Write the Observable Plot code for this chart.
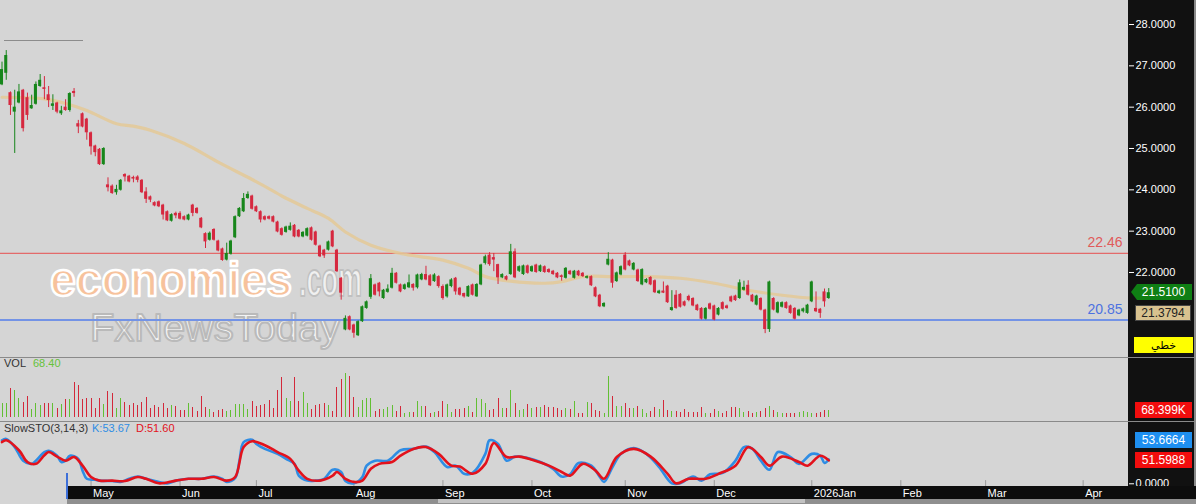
<!DOCTYPE html>
<html><head><meta charset="utf-8">
<script src="https://cdn.jsdelivr.net/npm/d3@7"></script>
<script src="https://cdn.jsdelivr.net/npm/@observablehq/plot@0.6"></script>
<style>
body{margin:0;background:#d5d5d5;}
#wrap{position:relative;width:1196px;height:504px;overflow:hidden;background:#d5d5d5;font-family:"Liberation Sans",Arial,sans-serif;}
.abs{position:absolute;}
.badge{position:absolute;font-size:12px;line-height:16px;text-align:center;color:#fff;}
.lbl{position:absolute;font-size:11px;white-space:nowrap;}
</style></head><body><div id="wrap"></div>
<script>
// ---------------- data ----------------
const opens = [26.54,26.82,26.35,25.88,26.10,26.41,26.23,25.96,26.07,26.50,26.47,26.30,26.02,26.10,25.84,26.00,25.92,26.38,25.60,25.84,
25.71,25.38,25.06,24.98,24.61,24.12,24.09,23.93,23.99,24.37,24.33,24.30,24.31,24.23,23.95,23.83,23.69,23.71,23.63,23.47,
23.24,23.43,23.43,23.35,23.27,23.63,23.55,23.31,22.94,22.78,23.04,22.76,22.57,22.30,22.44,22.84,23.35,23.47,23.79,23.85,
23.59,23.47,23.35,23.35,23.35,23.22,23.06,22.97,23.02,23.14,23.02,22.86,22.88,23.08,22.98,22.64,22.54,22.54,23.00,22.54,
21.86,20.61,20.93,20.73,20.47,20.81,21.13,21.40,21.70,21.74,21.37,21.52,21.62,21.98,21.70,21.59,21.63,21.71,21.63,21.82,
21.95,21.92,21.78,21.90,21.66,21.41,21.66,21.86,21.62,21.49,21.41,21.70,21.41,21.70,22.22,22.42,22.36,22.19,21.87,21.90,
21.95,22.50,22.03,21.95,22.16,22.02,22.18,22.02,22.14,22.07,22.03,21.98,21.92,21.86,22.03,21.86,22.03,21.98,21.86,21.90,
21.63,21.45,21.17,22.18,22.30,21.78,21.94,22.42,22.28,22.06,22.06,21.70,21.75,21.88,21.80,21.49,21.55,21.67,21.08,21.45,
21.47,21.29,21.42,21.37,21.21,21.13,20.87,21.24,21.19,20.97,21.27,21.19,21.41,21.43,21.37,21.57,21.69,21.45,21.21,21.37,
21.09,20.62,21.37,21.02,21.16,21.27,21.19,21.13,20.95,21.05,21.01,21.29,21.13,21.11,21.53,21.37];
const highs = [27.09,27.37,26.37,26.41,26.55,26.43,26.34,26.29,26.61,26.79,26.74,26.50,26.30,26.12,26.02,26.18,26.35,26.45,25.68,25.86,
25.73,25.40,25.08,25.00,25.02,24.29,24.12,24.11,24.25,24.39,24.35,24.33,24.34,24.25,24.05,23.85,23.71,23.73,23.65,23.49,
23.42,23.46,23.47,23.37,23.41,23.65,23.57,23.33,22.96,22.98,23.06,22.78,22.59,22.71,22.78,23.37,23.57,23.91,23.95,23.87,
23.61,23.49,23.37,23.37,23.37,23.24,23.08,23.12,23.20,23.16,23.04,22.99,23.08,23.10,23.00,22.66,22.56,22.76,23.02,22.56,
21.88,20.95,20.95,20.75,20.83,21.19,21.31,21.95,21.72,21.76,21.59,21.70,22.10,22.00,21.72,21.72,21.94,21.73,21.96,21.98,
22.15,21.95,21.97,21.92,21.70,21.72,21.85,21.88,21.64,21.50,21.68,21.72,21.73,22.20,22.42,22.48,22.46,22.20,21.97,21.92,
22.68,22.57,22.16,22.18,22.18,22.16,22.20,22.18,22.16,22.09,22.05,22.00,21.94,22.12,22.05,22.05,22.05,22.00,21.92,21.92,
21.65,21.47,21.27,22.48,22.32,22.01,22.16,22.48,22.30,22.24,22.08,22.09,21.85,21.90,21.82,21.57,21.77,21.69,21.56,21.56,
21.49,21.31,21.45,21.39,21.23,21.15,21.15,21.26,21.21,21.15,21.29,21.21,21.43,21.45,21.82,21.79,21.80,21.47,21.45,21.39,
21.11,21.79,21.39,21.29,21.29,21.29,21.21,21.15,21.11,21.14,21.23,21.79,21.53,21.13,21.60,21.61];
const lows = [26.52,26.65,25.80,24.88,26.08,25.40,25.68,25.95,26.05,26.48,26.18,25.99,25.92,25.84,25.80,25.90,25.88,26.24,25.36,25.50,
25.20,24.84,24.80,24.59,24.59,23.95,23.89,23.87,23.97,24.19,24.17,24.17,24.17,23.91,23.67,23.69,23.59,23.57,23.27,23.23,
23.22,23.30,23.27,23.25,23.25,23.35,23.41,23.06,22.58,22.76,22.76,22.50,22.27,22.28,22.42,22.82,23.33,23.45,23.77,23.51,
23.45,23.20,23.25,23.27,23.20,22.96,22.88,22.95,23.00,22.84,22.84,22.84,22.86,22.76,22.64,22.36,22.34,22.52,22.60,22.00,
21.33,20.59,20.59,20.41,20.45,20.79,21.11,21.35,21.43,21.41,21.35,21.50,21.60,21.72,21.51,21.57,21.61,21.55,21.60,21.80,
21.80,21.66,21.76,21.62,21.33,21.38,21.63,21.45,21.43,21.38,21.40,21.43,21.40,21.68,22.18,22.15,22.02,21.71,21.85,21.80,
21.93,21.85,22.00,21.93,21.96,22.00,21.98,22.00,21.98,21.98,21.93,21.85,21.79,21.84,21.93,21.84,21.90,21.88,21.84,21.66,
21.39,21.15,21.15,22.16,21.62,21.76,21.92,22.04,22.14,22.04,21.76,21.68,21.73,21.68,21.49,21.47,21.49,21.25,21.06,21.11,
21.14,21.17,21.29,21.17,21.06,20.85,20.85,21.09,20.83,20.95,21.09,21.11,21.27,21.30,21.35,21.55,21.43,21.27,21.19,21.07,
20.52,20.55,21.07,21.00,21.14,21.11,20.99,20.85,20.93,21.02,20.99,21.27,21.03,20.89,21.16,21.35];
const closes = [26.91,27.25,26.04,26.00,26.37,25.48,25.80,26.04,26.55,26.65,26.43,26.16,26.08,25.88,25.91,25.92,26.33,26.33,25.52,25.52,
25.38,25.04,24.90,24.61,25.00,24.05,23.91,24.01,24.23,24.31,24.19,24.26,24.23,23.93,23.77,23.75,23.61,23.59,23.39,23.25,
23.40,23.37,23.29,23.27,23.39,23.43,23.43,23.08,22.74,22.95,22.78,22.52,22.29,22.46,22.76,23.35,23.55,23.79,23.89,23.53,
23.47,23.27,23.27,23.29,23.22,22.98,22.90,23.10,23.12,22.86,22.86,22.97,23.06,22.78,22.66,22.38,22.40,22.74,22.62,22.02,
21.50,20.89,20.61,20.53,20.81,21.17,21.29,21.85,21.45,21.53,21.57,21.60,21.98,21.74,21.53,21.70,21.75,21.62,21.94,21.95,
21.82,21.68,21.94,21.66,21.37,21.70,21.82,21.53,21.45,21.41,21.66,21.45,21.71,22.18,22.38,22.19,22.30,21.87,21.95,21.82,
22.50,21.87,22.14,22.16,21.98,22.14,22.00,22.16,22.00,22.00,21.95,21.87,21.88,22.10,21.95,22.03,21.92,21.90,21.90,21.68,
21.41,21.17,21.25,22.32,21.74,21.99,22.14,22.06,22.16,22.22,21.78,22.07,21.83,21.70,21.51,21.55,21.50,21.27,21.15,21.13,
21.16,21.19,21.32,21.19,21.08,20.87,21.13,21.11,20.85,21.13,21.11,21.13,21.29,21.32,21.75,21.64,21.45,21.29,21.43,21.09,
20.62,21.77,21.09,21.27,21.27,21.13,21.01,20.87,21.09,21.12,21.21,21.77,21.05,21.01,21.29,21.51];
// volume (thousands)
const volumes = [136,136,289,272,187,153,211,75,143,119,136,136,136,85,129,177,177,357,323,177,
187,187,85,187,129,265,238,85,194,153,119,143,119,153,204,85,119,95,143,85,
119,109,68,68,143,95,61,214,95,75,51,68,75,61,68,129,129,129,75,163,
109,119,129,170,85,272,408,187,163,408,163,255,143,75,119,129,143,119,61,306,
381,449,415,197,95,170,187,187,61,75,75,95,119,58,109,41,51,51,163,109,
109,41,51,61,163,129,51,75,75,85,109,51,187,177,143,68,75,187,85,85,
272,143,68,75,129,85,95,102,119,95,95,85,68,85,75,163,34,41,153,136,
68,61,34,415,211,109,109,136,85,85,109,75,41,61,95,75,170,68,61,61,
51,75,51,51,51,102,41,41,75,61,41,61,102,95,85,51,61,41,51,61,
85,109,68,51,41,41,34,41,51,61,51,41,41,51,68,68.4];
// moving average (tan line), read at bar indices
const maIdx = [0,10,15,20,27,31,35,43,51,59,64,66,72,77,81,87,95,104,110,114,120,128,132,137,144,152,160,168,176,184,191,193];
const maVal = [26.24,26.20,26.09,25.92,25.60,25.54,25.44,25.12,24.67,24.25,23.97,23.85,23.55,23.31,22.98,22.66,22.44,22.30,22.10,21.90,21.79,21.74,21.78,21.90,21.90,21.90,21.86,21.74,21.57,21.45,21.38,21.38];
// slow stochastic %K and %D
const kIdx = [0,1,3,5,7,8,10,11,13,14,15,16,18,19,20,22,23,26,28,30,32,34,37,39,41,44,47,50,52,53,55,56,57,59,60,62,65,67,69,70,72,74,76,78,80,81,83,85,86,88,91,94,97,100,102,105,107,109,111,114,115,117,119,121,124,127,130,132,134,136,139,141,142,144,146,149,152,155,158,160,163,165,167,170,173,175,177,179,181,183,186,188,191,193,194,195];
const kVal = [96,99,81,51,44,51,70,73,62,48,51,62,55,29,11,9,7,6,4,11,16,11,4,1,7,11,11,16,11,4,13,51,92,97,88,77,66,55,44,18,7,7,11,31,26,6,1,15,40,51,51,74,77,82,70,37,40,22,24,66,96,88,51,60,57,48,33,16,21,46,40,15,4,37,66,79,66,37,1,1,16,7,21,24,51,81,77,51,31,70,59,44,66,62,46,53.67];
const dIdx = [0,1,4,6,8,10,11,13,15,17,19,21,23,26,29,32,34,37,41,44,47,50,53,55,57,59,62,65,68,70,72,75,78,79,81,83,85,87,89,92,94,97,100,103,106,108,111,114,116,119,122,125,129,132,134,137,140,142,145,149,153,157,159,162,166,169,173,176,179,181,184,188,190,193,195];
const dVal = [92,96,74,48,44,63,70,60,51,59,40,15,7,7,6,15,11,1,7,11,11,15,7,15,81,94,85,70,55,29,11,7,18,26,11,4,7,33,44,48,62,77,81,66,40,38,22,44,90,59,60,53,40,26,18,44,29,11,59,77,60,22,1,11,11,22,40,81,59,40,60,48,40,62,51.6];
// axes
const priceTicks = [22,23,24,25,26,27,28];
const monthIdx = [21,42,60,83,104,125,147,168,191,212,232,255];
const monthLabels = ["May","Jun","Jul","Aug","Sep","Oct","Nov","Dec","2026Jan","Feb","Mar","Apr"];
const resistance = 22.46, support = 20.85;
const lastK = 53.6664, lastD = 51.5988, lastVol = 68.399, lastMA = 21.3794;
const volLabel = "68.40", kLabel = "53.67", dLabel = "51.60";

// ---------------- build ----------------
const W = 1196, RM = 68;
const xDomain = [-0.354, 265.7];
const GREEN = "#17861b", RED = "#d6283f", VGREEN = "#62bf33", VRED = "#d3283a";
const bars = opens.map((o,i)=>({i, o, h:highs[i], l:lows[i], c:closes[i], v:volumes[i], up: closes[i] >= o}));
const ma = maIdx.map((i,k)=>({i, v: maVal[k]}));
const kPts = kIdx.map((i,k)=>({i, v: kVal[k]}));
const dPts = dIdx.map((i,k)=>({i, v: dVal[k]}));
const baseStyle = {fontFamily:"Liberation Sans, Arial, sans-serif", fontSize:"11px", color:"white", background:"transparent", overflow:"visible", maxWidth:"none"};
const wrap = document.getElementById("wrap");
function box(left, top, w, h, bg){ const d=document.createElement("div"); d.className="abs"; Object.assign(d.style,{left:left+"px",top:top+"px",width:w+"px",height:h+"px",background:bg}); wrap.appendChild(d); return d; }
function place(el, left, top){ const d=document.createElement("div"); d.className="abs"; d.style.left=left+"px"; d.style.top=top+"px"; d.style.width=W+"px"; d.appendChild(el); wrap.appendChild(d); return d; }

// right black panel
box(1128, 0, 68, 504, "#111");
box(1194, 0, 2, 504, "#8a8a8a");

// watermark (behind marks)
const wm = document.createElementNS("http://www.w3.org/2000/svg","svg");
wm.setAttribute("width","1128"); wm.setAttribute("height","357");
wm.innerHTML = `<g font-family="Liberation Sans, Arial, sans-serif" font-weight="bold" stroke-linejoin="round">
<text x="50" y="296" font-size="48" textLength="242" lengthAdjust="spacingAndGlyphs" stroke-width="2.5" fill="#f7c29c" stroke="#ffffff">economies</text>
<text x="299" y="296" font-size="48" textLength="63" lengthAdjust="spacingAndGlyphs" stroke-width="2" fill="#f0f0f0" stroke="#c0c0c0">.com</text>
<text x="90" y="341" font-size="38" font-weight="normal" textLength="250" lengthAdjust="spacingAndGlyphs" fill="#f4f4f4" stroke="#bababa" stroke-width="2">FxNewsToday</text></g>`;
place(wm, 0, 0);

// main price panel
const main = Plot.plot({
  width: W, height: 357, marginLeft: 0, marginRight: RM, marginTop: 0, marginBottom: 0,
  style: baseStyle,
  x: {type: "linear", domain: xDomain, axis: null},
  y: {domain: [19.943, 28.581], axis: null},
  marks: [
    Plot.ruleY([resistance], {stroke: "#e36a6a", strokeWidth: 1.3}),
    Plot.ruleY([support], {stroke: "#7393e6", strokeWidth: 2}),
    Plot.text([resistance], {x: xDomain[1], y: d => d, text: d => d.toFixed(2), dx: -6, dy: -11, textAnchor: "end", fill: "#e05a5a", fontSize: 14}),
    Plot.text([support], {x: xDomain[1], y: d => d, text: d => d.toFixed(2), dx: -6, dy: -10, textAnchor: "end", fill: "#4d72e0", fontSize: 14}),
    Plot.line(ma, {x: "i", y: "v", stroke: "#e4c996", strokeWidth: 3.2, strokeOpacity: 0.85, curve: "catmull-rom"}),
    Plot.ruleX(bars, {x: "i", y1: "l", y2: "h", stroke: d => d.up ? GREEN : RED, strokeWidth: 1}),
    Plot.rect(bars, {x1: d => d.i - 0.36, x2: d => d.i + 0.36, y1: "o", y2: "c", fill: d => d.up ? GREEN : RED}),
    Plot.axisY(priceTicks, {anchor: "right", label: null, tickSize: 5, tickPadding: 2, tickFormat: d3.format(".4f"), fill: "white", stroke: "white", fontSize: 11})
  ]
});
place(main, 0, 0);

// top-left short line
box(4, 40, 79, 1, "#8c8c8c");
// separators
box(0, 357, 1196, 1, "#8a8a8a");
box(0, 421, 1196, 1, "#8a8a8a");

// volume panel
const vol = Plot.plot({
  width: W, height: 63, marginLeft: 0, marginRight: RM, marginTop: 0, marginBottom: 4.3,
  style: baseStyle,
  x: {type: "linear", domain: xDomain, axis: null},
  y: {domain: [0, 599], axis: null},
  marks: [
    Plot.ruleX(bars, {x: "i", y1: 0, y2: "v", stroke: d => d.up ? VGREEN : VRED, strokeWidth: 1, shapeRendering: "crispEdges"})
  ]
});
place(vol, 0, 358);

// stochastic panel
const sto = Plot.plot({
  width: W, height: 64, marginLeft: 0, marginRight: RM, marginTop: 0, marginBottom: 0,
  style: baseStyle,
  x: {type: "linear", domain: xDomain, axis: null},
  y: {domain: [-6, 135.3], axis: null},
  marks: [
    Plot.ruleX(monthIdx, {x: d => d, y1: -6, y2: 7, stroke: "#9a9a9a"}),
    Plot.line(kPts, {x: "i", y: "v", stroke: "#2f8de4", strokeWidth: 2.6, curve: "catmull-rom"}),
    Plot.line(dPts, {x: "i", y: "v", stroke: "#e3121c", strokeWidth: 2.6, curve: "catmull-rom"}),
    Plot.axisY([0], {anchor: "right", label: null, tickSize: 5, tickPadding: 2, tickFormat: d3.format(".4f"), fill: "white", stroke: "white", fontSize: 11})
  ]
});
place(sto, 0, 422);

// x axis band
box(67, 486, 1129, 13, "#0d0d0d");
box(67, 499, 1129, 5, "#8f8f8f");
box(438, 499, 367, 4, "#c2c2c2");
box(66, 473, 2, 26, "#3d6fd8");
const xax = Plot.plot({
  width: W, height: 13, marginLeft: 0, marginRight: RM, marginTop: 0, marginBottom: 0,
  style: baseStyle,
  x: {type: "linear", domain: xDomain, axis: null},
  marks: [
    Plot.text(monthIdx, {x: d => d, text: (d, i) => monthLabels[i], frameAnchor: "middle", textAnchor: "start", dx: 2, fill: "white", fontSize: 11})
  ]
});
place(xax, 0, 486);

// panel labels
function lbl(text, left, top, color){ const d=document.createElement("div"); d.className="lbl"; d.textContent=text; d.style.left=left+"px"; d.style.top=top+"px"; d.style.color=color; wrap.appendChild(d); return d; }
lbl("VOL", 4, 357, "#333");
lbl(volLabel, 33, 357, "#66c23a");
lbl("SlowSTO(3,14,3)", 4, 422, "#333");
lbl("K:" + kLabel, 92, 422, "#2f8de4");
lbl("D:" + dLabel, 136, 422, "#e3121c");

// right-side value badges (positions from the Plot scales)
function badge(text, left, top, w, bg, color, extra){ const d=document.createElement("div"); d.className="badge"; d.textContent=text; Object.assign(d.style,{left:left+"px",top:top+"px",width:w+"px",height:"16px",background:bg,color:color},extra||{}); wrap.appendChild(d); return d; }
const ys = main.scale("y");
const gC = ys.apply(closes[closes.length-1]);
badge(closes[closes.length-1].toFixed(4), 1131, Math.round(gC - 8), 61, "#0f7f14", "#fff", {clipPath:"polygon(0 50%, 6px 0, 100% 0, 100% 100%, 6px 100%)", paddingLeft:"4px", boxSizing:"border-box"});
const mC = Math.max(ys.apply(lastMA), gC + 13);
badge(lastMA.toFixed(4), 1135, Math.round(mC), 56, "#d8c28f", "#222", {border:"1px solid #444", boxSizing:"border-box", lineHeight:"14px"});
badge("خطي", 1134, 337, 59, "#ffff00", "#000", {fontFamily:"Noto Sans, DejaVu Sans, sans-serif", fontSize:"11px"});
const vy = 358 + vol.scale("y").apply(lastVol);
badge(lastVol.toFixed(3) + "K", 1135, Math.round(vy - 8), 57, "#f20d0d", "#fff");
const dyy = 422 + sto.scale("y").apply(lastD);
badge(lastD.toFixed(4), 1135, Math.round(dyy - 8), 57, "#f20d0d", "#fff");
badge(lastK.toFixed(4), 1135, Math.round(dyy - 8 - 20), 57, "#1e8ff0", "#fff");
</script></body></html>
